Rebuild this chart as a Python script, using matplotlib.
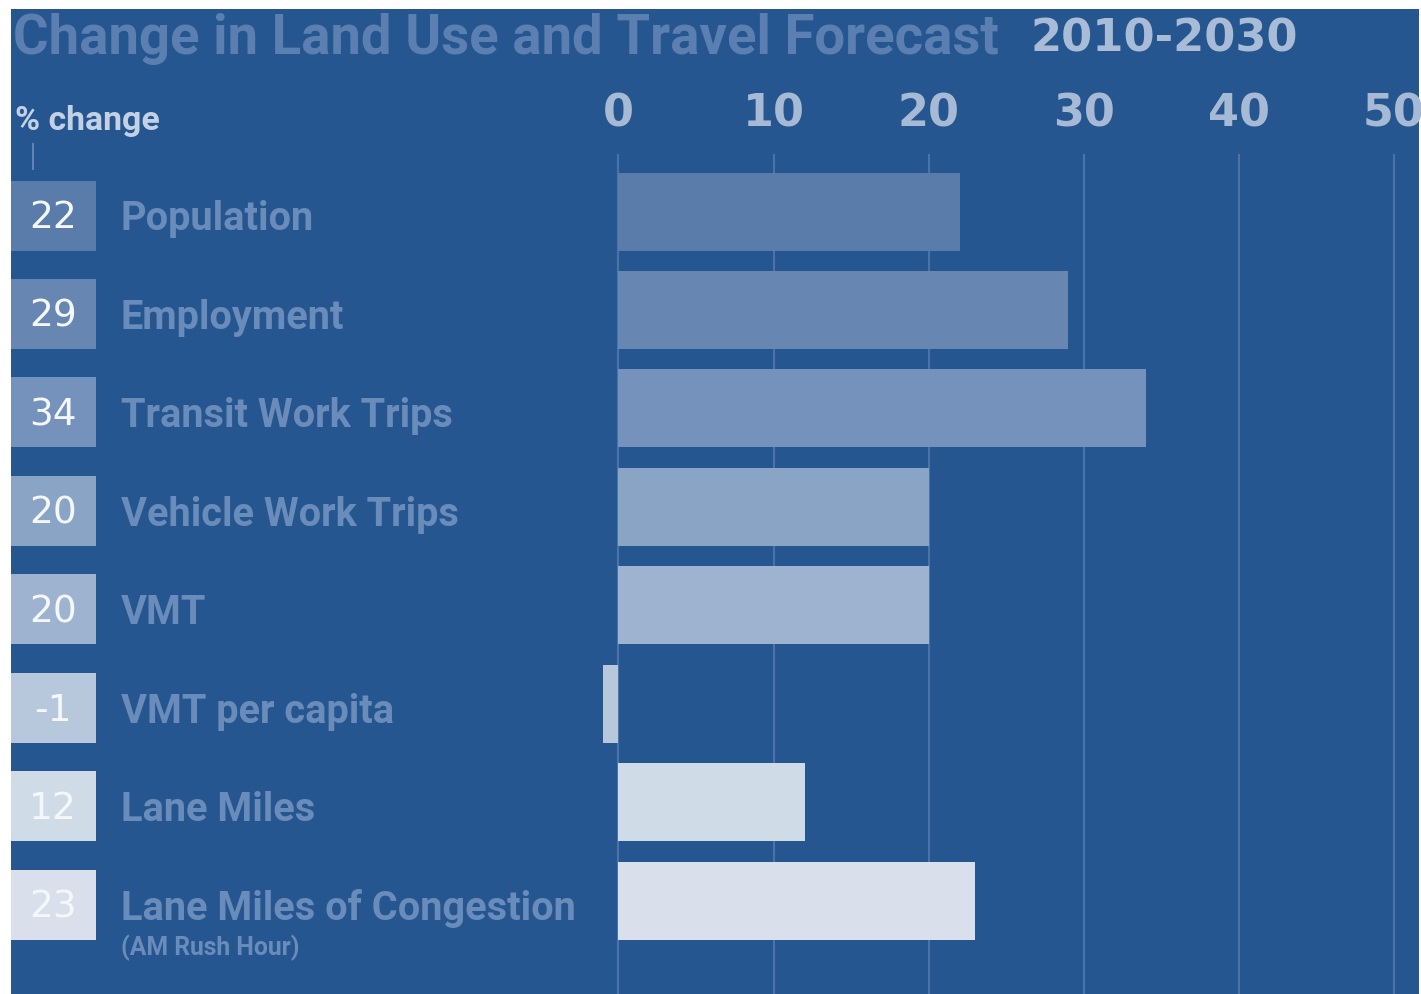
import matplotlib
matplotlib.use('Agg')
import matplotlib.pyplot as plt
import matplotlib.transforms as mtransforms
from matplotlib.patches import Rectangle

categories = ['Population', 'Employment', 'Transit Work Trips', 'Vehicle Work Trips',
              'VMT', 'VMT per capita', 'Lane Miles', 'Lane Miles of Congestion']
pct_change = [22, 29, 34, 20, 20, -1, 12, 23]
bar_colors = ['#5a7caa', '#6787b2', '#7492bb', '#8aa4c6',
              '#9eb3d0', '#b7c7dc', '#cfdbe7', '#d9e0eb']
x_ticks = [0, 10, 20, 30, 40, 50]

BG = '#26568f'
GRID = '#4b73a7'
LABEL = '#6a8cba'
LABEL_FONT = ['Roboto', 'DejaVu Sans']

W, H = 1421, 995
fig = plt.figure(figsize=(W / 100, H / 100), dpi=100, facecolor='white')
renderer = fig.canvas.get_renderer()


def fit_width(txt, target_px):
    # rescale a text so its rendered width comes out at target_px
    w = txt.get_window_extent(renderer).width
    txt.set_fontsize(txt.get_fontsize() * target_px / w)
    return txt.get_fontsize()


# axes covers the blue panel; 0 sits at x=618.5px, 15.51px per unit, rows 98.43px apart
ax = fig.add_axes([11 / W, 0, 1408 / W, 985 / H])
ax.set_facecolor(BG)
px_per_unit = 15.51
ax.set_xlim((11 - 618.5) / px_per_unit, (1419 - 618.5) / px_per_unit)
row = 98.43
ax.set_ylim((995 - 212.5) / row, (10 - 212.5) / row)
for s in ax.spines.values():
    s.set_visible(False)
ax.set_xticks([])
ax.set_yticks([])


def ypx(p):
    return (p - 212.5) / row


# gridlines
ax.vlines(x_ticks, ypx(155), ypx(995), color=GRID, lw=1.5, zorder=1)
for t in x_ticks:
    ax.text(t, ypx(114), str(t), ha='center', va='center', fontsize=32,
            fontweight='bold', color='#a7bad5', zorder=3)

# bars
bar_h = 78 / row
ypos = list(range(len(categories)))
ax.barh(ypos, pct_change, height=bar_h, color=bar_colors, zorder=2)

# value boxes + category labels on the left
trans = mtransforms.blended_transform_factory(ax.transAxes, ax.transData)
box_w = 85 / 1408
name_texts = []
for i, (v, c, name) in enumerate(zip(pct_change, bar_colors, categories)):
    top = i - bar_h / 2 + 8 / row
    bottom = i + bar_h / 2
    ax.add_patch(Rectangle((0, top), box_w, bottom - top, transform=trans,
                           facecolor=c, edgecolor='none', zorder=2))
    ax.text(42 / 1408, i + 0.06, str(v), transform=trans, ha='center', va='center',
            fontsize=27, color='#f4f7fb', zorder=3)
    name_texts.append(ax.text(110 / 1408, i + 0.07, name, transform=trans, ha='left',
                              va='center', fontsize=30, fontweight='bold',
                              family=LABEL_FONT, color=LABEL, zorder=3))

# one size for all names, set by the longest one
fs = fit_width(name_texts[-1], 455)
for t in name_texts:
    t.set_fontsize(fs)

sub = ax.text(110 / 1408, 7 + 0.47, '(AM Rush Hour)', transform=trans, ha='left',
              va='center', fontsize=19, fontweight='bold', family=LABEL_FONT,
              color=LABEL, zorder=3)
fit_width(sub, 179)

# header
hdr = ax.text(4 / 1408, ypx(121), '% change', transform=trans, ha='left', va='center',
              fontsize=27, fontweight='bold', family=LABEL_FONT, color='#c3d1e4',
              zorder=3)
fit_width(hdr, 145)
ax.plot([22 / 1408, 22 / 1408], [ypx(145), ypx(170)], transform=trans,
        color='#5f83b3', lw=1.5, zorder=3)

title = fig.text(13 / W, 1 - 54 / H, 'Change in Land Use and Travel Forecast', ha='left',
                 va='baseline', fontsize=41, fontweight='bold', family=LABEL_FONT,
                 color='#5b7fb0')
fit_width(title, 987)
years = fig.text(1030 / W, 1 - 52 / H, '2010-2030', ha='left', va='baseline',
                 fontsize=31, fontweight='bold', color='#a9bcd7')
fit_width(years, 267)

fig.savefig('out.png', dpi=100, facecolor='white')
